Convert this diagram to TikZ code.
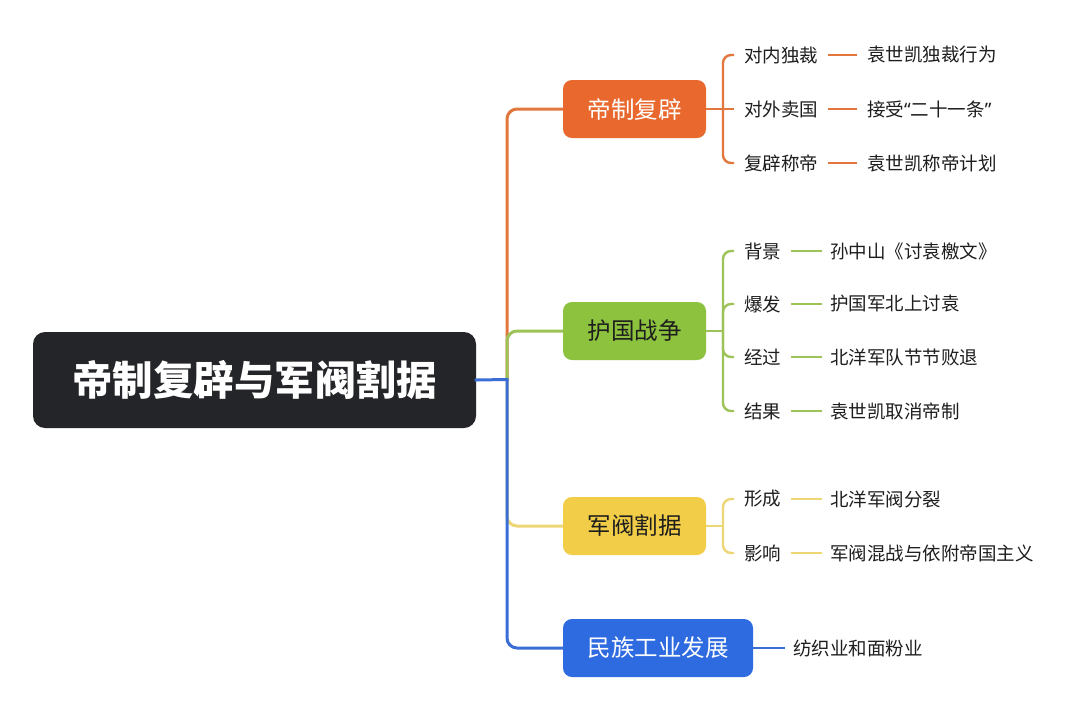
\documentclass[tikz,border=0pt]{standalone}
\usepackage{fontspec}
\setmainfont{Noto Sans CJK SC}
\newfontfamily\latinq{Noto Sans}
\definecolor{rootc}{HTML}{242528}
\definecolor{orbox}{HTML}{E8682D}
\definecolor{orln}{HTML}{E2773E}
\definecolor{grbox}{HTML}{8CC23D}
\definecolor{grln}{HTML}{9DC258}
\definecolor{yebox}{HTML}{F1CD48}
\definecolor{yeln}{HTML}{EDD675}
\definecolor{blbox}{HTML}{2E6AE0}
\definecolor{blln}{HTML}{3A6ED6}
\definecolor{txt}{HTML}{1E1E1E}
\tikzset{
  mainln/.style={line width=3pt},
  subln/.style={line width=2.4pt},
  branchbox/.style={rounded corners=9pt, minimum width=143pt, minimum height=58pt, inner sep=0pt, font=\fontsize{23.5}{26}\selectfont},
  itemtxt/.style={inner xsep=10pt, inner ysep=2pt, font=\fontsize{18.5}{21}\selectfont, text=txt},
}
\begin{document}
\begin{tikzpicture}[x=1pt,y=-1pt]
\fill[white] (0,0) rectangle (1080,713);
\useasboundingbox (0,0) rectangle (1080,713);

% root
\node[fill=rootc, rounded corners=12pt, minimum width=443pt, minimum height=96pt, inner sep=0pt, text=white, font=\fontsize{40.5}{44}\selectfont\bfseries] (root) at (254.5,380) {帝制复辟与军阀割据};

% branches
\node[branchbox, fill=orbox, text=white] (b1) at (634.5,109) {帝制复辟};
\node[branchbox, fill=grbox, text=txt] (b2) at (634.5,331) {护国战争};
\node[branchbox, fill=yebox, text=txt] (b3) at (634.5,526) {军阀割据};
\node[branchbox, fill=blbox, text=white, minimum width=190pt] (b4) at (658,648) {民族工业发展};

\coordinate (trunk) at (507,379.5);

% main connectors
\draw[mainln, orln, rounded corners=10pt] (trunk) |- (b1.west);
\draw[mainln, grln, rounded corners=10pt] (trunk) |- (b2.west);
\draw[mainln, yeln, rounded corners=10pt] (trunk) |- (b3.west);
\draw[mainln, blln, rounded corners=10pt] (trunk) |- (b4.west);
\draw[mainln, blln, line cap=rect] (root.east) -- (trunk);

% branch 1 items
\node[itemtxt, anchor=west] (i11) at (734,55) {对内独裁};
\node[itemtxt, anchor=west] (i12) at (734,109) {对外卖国};
\node[itemtxt, anchor=west] (i13) at (734,163) {复辟称帝};
\node[itemtxt, anchor=west] (d11) at (857,55) {袁世凯独裁行为};
\node[itemtxt, anchor=west] (d12) at (857,109) {接受{\latinq “}二十一条{\latinq ”}};
\node[itemtxt, anchor=west] (d13) at (857,163) {袁世凯称帝计划};
\coordinate (k1) at (723,109);
\draw[subln, orln] (b1.east) -- (k1);
\draw[subln, orln, rounded corners=8pt] (k1) |- (i11.west);
\draw[subln, orln] (k1) -- (i12.west);
\draw[subln, orln, rounded corners=8pt] (k1) |- (i13.west);
\draw[subln, orln] (i11.east) -- (d11.west);
\draw[subln, orln] (i12.east) -- (d12.west);
\draw[subln, orln] (i13.east) -- (d13.west);

% branch 2 items
\node[itemtxt, anchor=west] (i21) at (734,251) {背景};
\node[itemtxt, anchor=west] (i22) at (734,304) {爆发};
\node[itemtxt, anchor=west] (i23) at (734,357) {经过};
\node[itemtxt, anchor=west] (i24) at (734,411) {结果};
\node[itemtxt, anchor=west, inner xsep=8pt] (d21) at (822,251) {孙中山《讨袁檄文》};
\node[itemtxt, anchor=west, inner xsep=8pt] (d22) at (822,304) {护国军北上讨袁};
\node[itemtxt, anchor=west, inner xsep=8pt] (d23) at (822,357) {北洋军队节节败退};
\node[itemtxt, anchor=west, inner xsep=8pt] (d24) at (822,411) {袁世凯取消帝制};
\coordinate (k2) at (723,331);
\draw[subln, grln] (b2.east) -- (k2);
\draw[subln, grln, rounded corners=8pt] (k2) |- (i21.west);
\draw[subln, grln, rounded corners=8pt] (k2) |- (i22.west);
\draw[subln, grln, rounded corners=8pt] (k2) |- (i23.west);
\draw[subln, grln, rounded corners=8pt] (k2) |- (i24.west);
\draw[subln, grln] (i21.east) -- (d21.west);
\draw[subln, grln] (i22.east) -- (d22.west);
\draw[subln, grln] (i23.east) -- (d23.west);
\draw[subln, grln] (i24.east) -- (d24.west);

% branch 3 items
\node[itemtxt, anchor=west] (i31) at (734,499) {形成};
\node[itemtxt, anchor=west] (i32) at (734,553) {影响};
\node[itemtxt, anchor=west, inner xsep=8pt] (d31) at (822,499) {北洋军阀分裂};
\node[itemtxt, anchor=west, inner xsep=8pt] (d32) at (822,553) {军阀混战与依附帝国主义};
\coordinate (k3) at (723,526);
\draw[subln, yeln] (b3.east) -- (k3);
\draw[subln, yeln, rounded corners=8pt] (k3) |- (i31.west);
\draw[subln, yeln, rounded corners=8pt] (k3) |- (i32.west);
\draw[subln, yeln] (i31.east) -- (d31.west);
\draw[subln, yeln] (i32.east) -- (d32.west);

% branch 4
\node[itemtxt, anchor=west, inner xsep=8pt] (d41) at (785,648) {纺织业和面粉业};
\draw[subln, blln] (b4.east) -- (d41.west);
\end{tikzpicture}
\end{document}
